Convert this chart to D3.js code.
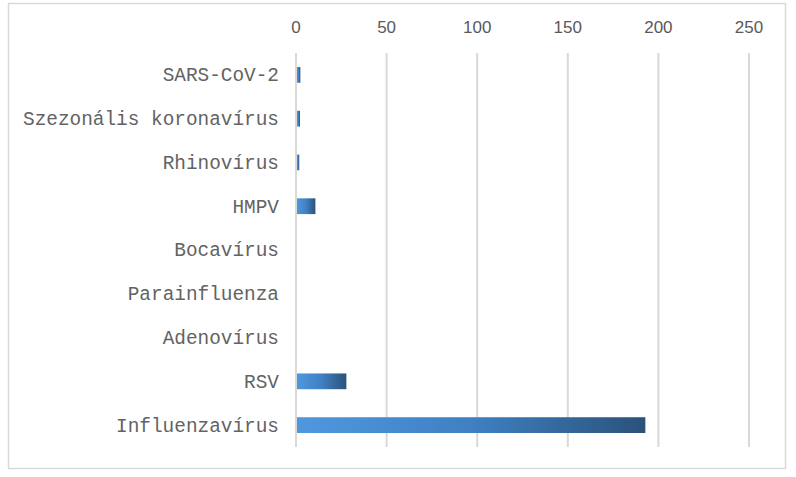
<!DOCTYPE html>
<html>
<head>
<meta charset="utf-8">
<script src="https://cdn.jsdelivr.net/npm/d3@7"></script>
<style>
  body { margin: 0; background: #fff; }
</style>
</head>
<body>
<script>
// Chart data
const categories = ["SARS-CoV-2", "Szezonális koronavírus", "Rhinovírus", "HMPV", "Bocavírus",
  "Parainfluenza", "Adenovírus", "RSV", "Influenzavírus"];
const values = [2.4, 2.2, 1.8, 10.7, 0, 0, 0, 27.8, 192.8];
const ticks = [0, 50, 100, 150, 200, 250];

const config = { width: 796, height: 477 };
const plot = { left: 296, right: 749, top: 53, bottom: 447 };

const svg = d3.select("body").append("svg")
  .attr("width", config.width)
  .attr("height", config.height);

// outer border
svg.append("rect")
  .attr("x", 8.5).attr("y", 3.5)
  .attr("width", 777).attr("height", 465)
  .attr("fill", "#fff")
  .attr("stroke", "#d9d9d9")
  .attr("stroke-width", 1.5);

const x = d3.scaleLinear().domain([0, 250]).range([plot.left, plot.right]);
const y = d3.scaleBand().domain(categories).range([plot.top, plot.bottom]).paddingInner(0.64).paddingOuter(0.32);

// gridlines
svg.append("g").selectAll("line")
  .data(ticks).enter().append("line")
  .attr("x1", d => x(d)).attr("x2", d => x(d))
  .attr("y1", plot.top).attr("y2", plot.bottom)
  .attr("stroke", "#d9d9d9")
  .attr("stroke-width", 2);

// tick labels on top
svg.append("g").selectAll("text")
  .data(ticks).enter().append("text")
  .attr("x", d => x(d))
  .attr("y", 33)
  .attr("text-anchor", "middle")
  .attr("font-family", "'Liberation Sans', Arial, sans-serif")
  .attr("font-size", 17)
  .attr("fill", "#595959")
  .text(d => d);

// gradient
const defs = svg.append("defs");
const grad = defs.append("linearGradient")
  .attr("id", "barGrad")
  .attr("x1", "0%").attr("x2", "100%")
  .attr("y1", "0%").attr("y2", "0%");
grad.append("stop").attr("offset", "0%").attr("stop-color", "#4f98de");
grad.append("stop").attr("offset", "50%").attr("stop-color", "#3f80c2");
grad.append("stop").attr("offset", "100%").attr("stop-color", "#2b527a");

// bars
svg.append("g").selectAll("rect")
  .data(categories).enter().append("rect")
  .attr("x", x(0) + 1)
  .attr("y", d => y(d))
  .attr("width", (d, i) => Math.max(0, x(values[i]) - x(0) - 1))
  .attr("height", y.bandwidth())
  .attr("fill", "url(#barGrad)");

// category labels
svg.append("g").selectAll("text")
  .data(categories).enter().append("text")
  .attr("x", 279)
  .attr("y", d => y(d) + y.bandwidth() / 2)
  .attr("dy", "0.33em")
  .attr("text-anchor", "end")
  .attr("font-family", "'Courier New', 'Liberation Mono', monospace")
  .attr("font-size", 19.4)
  .attr("fill", "#636363")
  .text(d => d);
</script>
</body>
</html>
